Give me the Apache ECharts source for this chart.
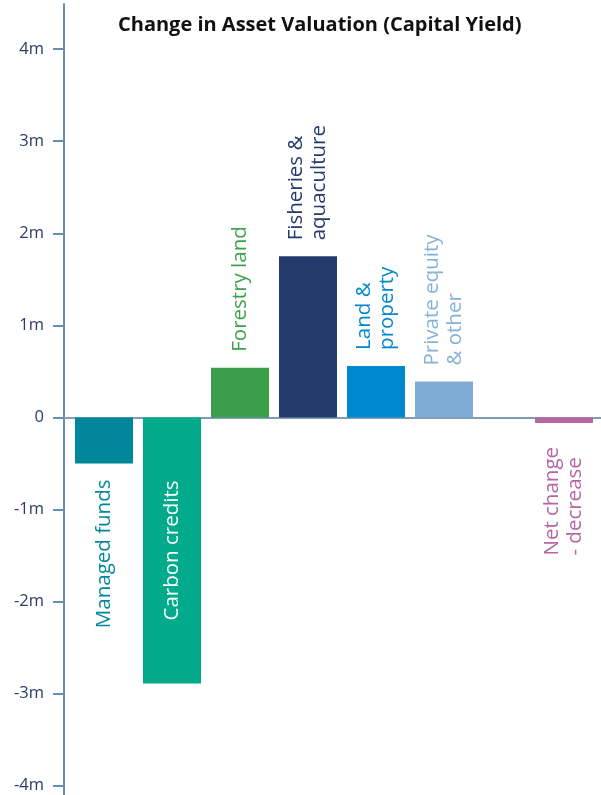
<!DOCTYPE html>
<html>
<head>
<meta charset="utf-8">
<script src="https://cdn.jsdelivr.net/npm/echarts@6/dist/echarts.min.js"></script>
<style>
  html, body { margin: 0; padding: 0; background: #fff; }
  #chart { width: 601px; height: 795px; }
</style>
</head>
<body>
<div id="chart"></div>
<script>
// Asset classes (left block) and the net result (shown apart on the right)
const assetCategories = ['Managed funds', 'Carbon credits', 'Forestry land', 'Fisheries &\naquaculture', 'Land &\nproperty', 'Private equity\n& other'];
const assetValues = [-0.5, -2.89, 0.54, 1.75, 0.56, 0.39];   // millions
const netCategories = ['Net change\n- decrease'];
const netValues = [-0.06];                                      // millions
const yTicks = [-4, -3, -2, -1, 0, 1, 2, 3, 4];

const assetColors = ['#00879a', '#00aa8a', '#3a9e4a', '#243a6a', '#0088cf', '#7eacd4'];
const assetLabelColors = ['#00879a', '#ffffff', '#3ea14a', '#243a6a', '#0088cf', '#86b2d8'];
const netColor = '#b766a3';

const FONT = '"Open Sans", "Noto Sans", sans-serif';
const LABEL_SIZE = 20.5;
const Y_MIN = -4.1, Y_MAX = 4.49;

function labelFor(value, color, inside, gap) {
  const base = {
    show: true,
    rotate: 90,
    verticalAlign: 'middle',
    fontFamily: FONT,
    fontSize: LABEL_SIZE,
    lineHeight: 23,
    color: color,
    rich: { t: { align: 'left', fontFamily: FONT, fontSize: LABEL_SIZE, lineHeight: 23, color: color } }
  };
  if (inside) return Object.assign(base, { position: 'inside', align: 'center' });
  if (value >= 0) return Object.assign(base, { position: 'top', align: 'left', distance: gap });
  return Object.assign(base, { position: 'bottom', align: 'right', distance: gap });
}

function richText(name) {
  return name.split('\n').map(s => '{t|' + s + '}').join('\n');
}

const assetData = assetValues.map((v, i) => ({
  value: v,
  itemStyle: { color: assetColors[i] },
  label: Object.assign(labelFor(v, assetLabelColors[i], i === 1, 16), {
    formatter: () => richText(assetCategories[i])
  })
}));

const netData = netValues.map((v, i) => ({
  value: v,
  itemStyle: { color: netColor },
  label: Object.assign(labelFor(v, netColor, false, 24), {
    formatter: () => richText(netCategories[i])
  })
}));

const hiddenY = (gi) => ({ type: 'value', gridIndex: gi, min: Y_MIN, max: Y_MAX, show: false });

const chart = echarts.init(document.getElementById('chart'), null, { renderer: 'canvas' });
chart.setOption({
  animation: false,
  backgroundColor: '#ffffff',
  title: {
    text: 'Change in Asset Valuation (Capital Yield)',
    left: 113, top: 10,
    textStyle: { fontFamily: FONT, fontWeight: 'bold', fontSize: 20, color: '#111111' }
  },
  grid: [
    { left: 64, right: 0, top: 4, bottom: 0 },       // frame: y axis + zero line
    { left: 70, width: 408, top: 4, bottom: 0 },     // asset classes
    { left: 530, width: 68, top: 4, bottom: 0 }      // net change
  ],
  xAxis: [
    { type: 'category', gridIndex: 0, data: [''],
      axisLine: { show: true, onZero: true, lineStyle: { color: '#7f9db6', width: 2 } },
      axisTick: { show: false }, axisLabel: { show: false } },
    { type: 'category', gridIndex: 1, data: assetCategories, show: false },
    { type: 'category', gridIndex: 2, data: netCategories, show: false }
  ],
  yAxis: [
    { type: 'value', gridIndex: 0, min: Y_MIN, max: Y_MAX,
      axisLine: { show: true, lineStyle: { color: '#6a8dac', width: 2 } },
      axisTick: { show: true, length: 11, customValues: yTicks, lineStyle: { color: '#6a8dac', width: 2 } },
      axisLabel: { customValues: yTicks, margin: 20, fontFamily: FONT, fontSize: 16.5, color: '#2b3a67',
        formatter: v => (v === 0 ? '0' : v + 'm') },
      splitLine: { show: false } },
    hiddenY(1),
    hiddenY(2)
  ],
  series: [
    { type: 'bar', xAxisIndex: 1, yAxisIndex: 1, barWidth: 58, data: assetData },
    { type: 'bar', xAxisIndex: 2, yAxisIndex: 2, barWidth: 58, data: netData }
  ]
});
</script>
</body>
</html>
